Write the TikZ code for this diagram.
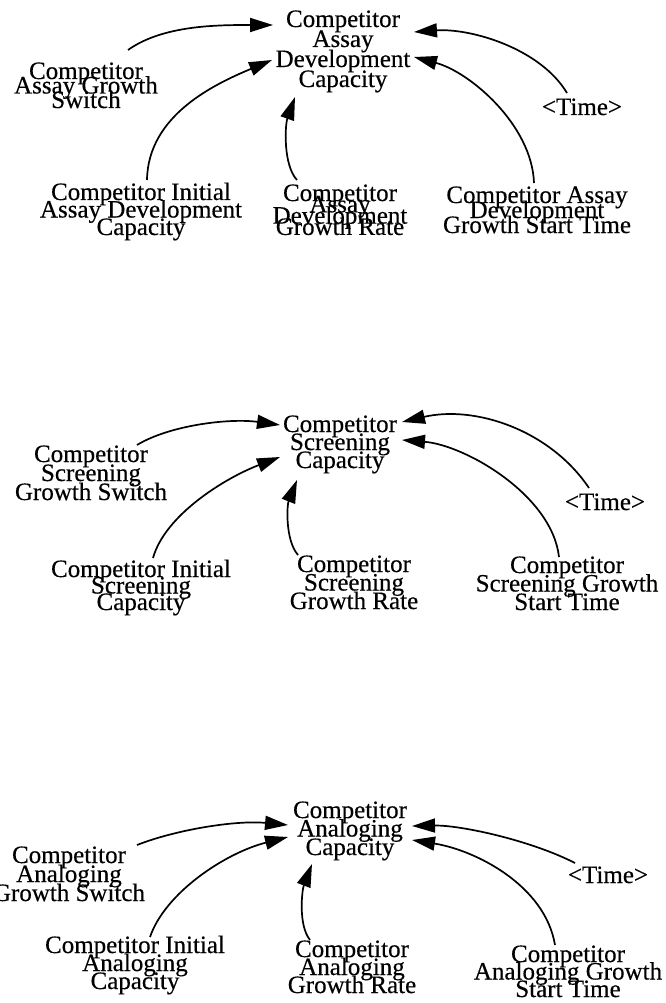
\documentclass[tikz,border=0pt]{standalone}
\usepackage{fontspec}
\setmainfont{Liberation Serif}[FakeBold=0.35]
\usetikzlibrary{arrows.meta}

% centred lines with a fixed baseline distance; the box's baseline is the first line
\newcommand\varlines[2]{\vtop{\baselineskip=#1pt\lineskiplimit=-100pt\lineskip=0pt
  \let\\\cr\halign{\hfil##\hfil\cr#2\cr}}}

\begin{document}
\begin{tikzpicture}[x=1pt,y=-1pt,
  var/.style={inner sep=0pt,outer sep=0pt,anchor=base,font=\fontsize{25}{25}\selectfont},
  link/.style={line width=1.7pt,-{Triangle[length=23pt,width=14pt]}}]
\fill[white] (0,0) rectangle (665,1003);
\useasboundingbox (0,0) rectangle (665,1003);

% ---------- assay development ----------
\node[var] (C1) at (343,27) {\varlines{20}{Competitor\\Assay\\Development\\Capacity}};
\node[var] (S1) at (86,79) {\varlines{14.5}{Competitor\\Assay Growth\\Switch}};
\node[var] (I1) at (141,200) {\varlines{17.5}{Competitor Initial\\Assay Development\\Capacity}};
\node[var] (R1) at (340,201) {\varlines{11.3}{Competitor\\Assay\\Development\\Growth Rate}};
\node[var] (T1) at (582,115) {<Time>};
\node[var] (G1) at (537,203) {\varlines{15}{Competitor Assay\\Development\\Growth Start Time}};

\draw[link] ([xshift=42pt,yshift=29pt]S1.base) .. controls +(35,-25) and +(-55,0) .. ([xshift=-70pt,yshift=2pt]C1.base);
\draw[link] ([xshift=6pt,yshift=20pt]I1.base) .. controls +(1,-65) and +(-57,24) .. ([xshift=-71pt,yshift=-33pt]C1.base);
\draw[link] ([xshift=-43pt,yshift=21pt]R1.base) .. controls +(-14,-15) and +(-10,28) .. ([xshift=-48pt,yshift=-70pt]C1.base);
\draw[link] ([xshift=-15pt,yshift=22pt]T1.base) .. controls +(-27,-45) and +(56,-4) .. ([xshift=71pt,yshift=-5pt]C1.base);
\draw[link] ([xshift=-3pt,yshift=20pt]G1.base) .. controls +(-2,-58) and +(56,15) .. ([xshift=71pt,yshift=-30pt]C1.base);

% ---------- screening ----------
\node[var] (C2) at (340,432) {\varlines{18}{Competitor\\Screening\\Capacity}};
\node[var] (S2) at (91,462) {\varlines{19}{Competitor\\Screening\\Growth Switch}};
\node[var] (I2) at (141,577) {\varlines{16.5}{Competitor Initial\\Screening\\Capacity}};
\node[var] (R2) at (354,572) {\varlines{18.5}{Competitor\\Screening\\Growth Rate}};
\node[var] (T2) at (605,510) {<Time>};
\node[var] (G2) at (567,573) {\varlines{18.5}{Competitor\\Screening Growth\\Start Time}};

\draw[link] ([xshift=46pt,yshift=17pt]S2.base) .. controls +(33,-20) and +(-50,-7) .. ([xshift=-60pt,yshift=7pt]C2.base);
\draw[link] ([xshift=12pt,yshift=19pt]I2.base) .. controls +(12,-43) and +(-55,21) .. ([xshift=-60pt,yshift=-25pt]C2.base);
\draw[link] ([xshift=-56pt,yshift=17pt]R2.base) .. controls +(-13,-15) and +(-10,25) .. ([xshift=-43pt,yshift=-48pt]C2.base);
\draw[link] ([xshift=-16pt,yshift=22pt]T2.base) .. controls +(-39,-58) and +(73,-17) .. ([xshift=62pt,yshift=10pt]C2.base);
\draw[link] ([xshift=-8pt,yshift=16pt]G2.base) .. controls +(-7,-62) and +(63,5) .. ([xshift=62pt,yshift=-8pt]C2.base);

% ---------- analoging ----------
\node[var] (C3) at (350,818) {\varlines{18.5}{Competitor\\Analoging\\Capacity}};
\node[var] (S3) at (69,863) {\varlines{19}{Competitor\\Analoging\\Growth Switch}};
\node[var] (I3) at (135,953) {\varlines{18}{Competitor Initial\\Analoging\\Capacity}};
\node[var] (R3) at (352,957) {\varlines{18}{Competitor\\Analoging\\Growth Rate}};
\node[var] (T3) at (608,883) {<Time>};
\node[var] (G3) at (568,962) {\varlines{17.5}{Competitor\\Analoging Growth\\Start Time}};

\draw[link] ([xshift=68pt,yshift=18pt]S3.base) .. controls +(38,-15) and +(-53,-5) .. ([xshift=-62pt,yshift=-7pt]C3.base);
\draw[link] ([xshift=15pt,yshift=16pt]I3.base) .. controls +(15,-44) and +(-63,16) .. ([xshift=-62pt,yshift=-19pt]C3.base);
\draw[link] ([xshift=-42pt,yshift=17pt]R3.base) .. controls +(-12,-15) and +(-10,26) .. ([xshift=-38pt,yshift=-46pt]C3.base);
\draw[link] ([xshift=-33pt,yshift=20pt]T3.base) .. controls +(-45,-23) and +(48,-1) .. ([xshift=62pt,yshift=-8pt]C3.base);
\draw[link] ([xshift=-13pt,yshift=17pt]G3.base) .. controls +(-10,-60) and +(63,10) .. ([xshift=62pt,yshift=-22pt]C3.base);
\end{tikzpicture}
\end{document}
